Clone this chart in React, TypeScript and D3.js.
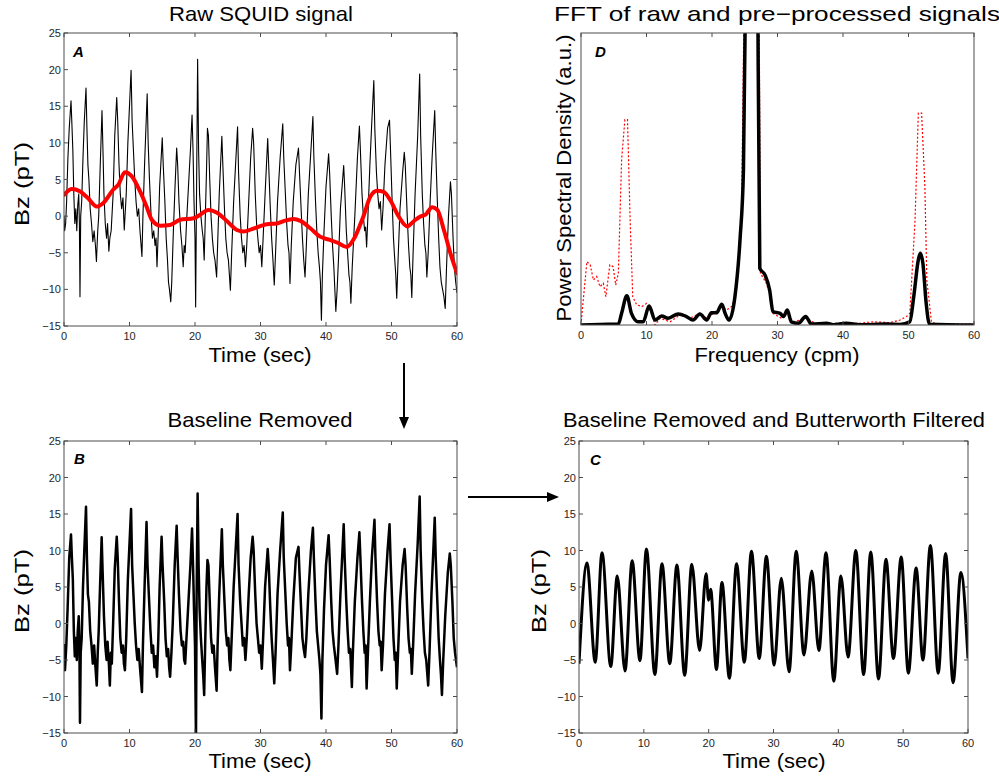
import React from 'react';
import * as d3 from 'd3';

type P = [number, number];

const timeTicks = [0, 10, 20, 30, 40, 50, 60];
const bzTicks = [-15, -10, -5, 0, 5, 10, 15, 20, 25];
const freqTicks = [0, 10, 20, 30, 40, 50, 60];

const rawSignal: P[] = [[0,0],[0.1,-2],[0.25,-1],[0.4,2],[0.6,8],[0.8,12],[1.07,15.75],[1.2,12.7],[1.35,9],[1.5,3],[1.65,-1],[1.8,1],[1.95,-2],[2.1,1.5],[2.25,3],[2.35,-1],[2.44,-11],[2.55,0],[2.7,2],[2.9,8],[3.1,13],[3.36,17.5],[3.5,12],[3.65,7],[3.8,5],[4.0,1],[4.2,-1],[4.4,-3.5],[4.6,-2],[4.8,-4],[4.95,-6.2],[5.15,-2],[5.3,0],[5.5,6],[5.8,14.4],[5.95,9],[6.1,3],[6.3,-1],[6.5,-3],[6.65,-1],[6.85,-4.8],[7.0,-3],[7.2,-2],[7.5,3],[7.75,11],[8.05,16.2],[8.2,13],[8.4,7],[8.6,3],[8.8,1],[9.0,2.5],[9.2,-1.9],[9.5,3],[9.75,10],[10.24,19.9],[10.4,13],[10.6,9],[10.8,5],[11.0,2],[11.2,0],[11.4,1],[11.6,-2],[11.9,-5.5],[12.05,0],[12.3,7],[12.7,16.7],[12.85,10],[13.05,5],[13.3,0],[13.5,-3],[13.7,-2],[13.9,-4],[14.05,-3],[14.2,-6.9],[14.4,-2],[14.6,4],[15.0,10.7],[15.15,7],[15.4,2],[15.6,-3],[15.8,-6],[15.95,-9],[16.1,-10],[16.3,-11.7],[16.45,-9],[16.7,-2],[16.95,4],[17.2,9.3],[17.35,7],[17.55,2],[17.8,-2],[18.0,-4],[18.2,-6.9],[18.35,-4],[18.5,-5],[18.7,-1],[19.0,4],[19.3,9],[19.55,13.8],[19.7,9],[19.85,2],[20.0,-3],[20.1,-12.4],[20.25,5],[20.4,21.4],[20.55,9],[20.7,3],[20.9,0],[21.1,-1.9],[21.25,-3],[21.4,-6],[21.55,-1],[21.75,6],[21.9,12.0],[22.05,11],[22.25,5],[22.45,0],[22.65,-3],[22.85,-5],[23.05,-6],[23.3,-8.3],[23.45,-4],[23.7,3],[24.1,10.9],[24.25,7],[24.5,1],[24.7,-3],[24.9,-5],[25.1,-6],[25.25,-8],[25.4,-10.1],[25.6,-5],[25.9,2],[26.5,12.2],[26.65,6],[26.9,0],[27.1,-3],[27.3,-5],[27.5,-4],[27.7,-6.9],[27.9,-4],[28.2,2],[28.5,8],[28.8,12.0],[28.95,10],[29.2,3],[29.4,-1],[29.6,-3],[29.8,-5],[30.0,-4],[30.2,-6.9],[30.4,-3],[30.7,3],[31.1,10.6],[31.25,7],[31.5,1],[31.7,-3],[31.9,-6],[32.1,-9.4],[32.3,-5],[32.6,2],[33.0,8],[33.4,12.6],[33.55,8],[33.8,3],[34.0,-1],[34.2,-4],[34.35,-5],[34.5,-9.2],[34.7,-4],[35.0,2],[35.4,7],[35.8,9.3],[35.95,6],[36.2,1],[36.4,-3],[36.6,-6],[36.8,-8.3],[37.0,-4],[37.3,3],[37.7,9],[38.0,13.6],[38.15,8],[38.4,2],[38.6,-2],[38.8,-5],[39.0,-7],[39.15,-9],[39.3,-14.2],[39.45,-8],[39.7,-2],[40.0,4],[40.4,8.5],[40.55,6],[40.8,0],[41.0,-4],[41.2,-7],[41.35,-10],[41.5,-13.0],[41.7,-10],[41.9,-6],[42.2,1],[42.7,6.9],[42.85,4],[43.1,-2],[43.3,-5],[43.5,-8],[43.65,-9],[43.8,-11.9],[44.0,-7],[44.4,0],[44.8,8],[45.1,12.3],[45.25,9],[45.5,3],[45.7,0],[45.9,-2],[46.05,-1.5],[46.2,-4.2],[46.4,0],[46.7,7],[47.0,13],[47.3,18.5],[47.45,12],[47.7,6],[47.9,3],[48.1,1],[48.3,2],[48.5,-1.9],[48.7,1],[49.0,7],[49.4,12],[49.7,13.1],[49.85,9],[50.1,2],[50.3,-3],[50.5,-6],[50.65,-8],[50.8,-11.2],[51.0,-6],[51.3,1],[51.7,6],[51.95,8.7],[52.1,7],[52.4,0],[52.6,-4],[52.8,-7],[52.95,-8],[53.1,-11.1],[53.3,-5],[53.6,3],[54.0,11],[54.3,19.4],[54.45,11],[54.7,3],[54.9,-1],[55.1,-4],[55.25,-5],[55.4,-8.3],[55.6,-5],[55.9,2],[56.2,8],[56.6,14.4],[56.75,9],[57.0,2],[57.2,-3],[57.4,-7],[57.6,-9],[57.8,-10],[58.0,-11],[58.2,-12.6],[58.4,-7],[58.7,0],[59.0,4.7],[59.15,3],[59.4,-3],[59.6,-7],[59.8,-9],[60,-10.5]];

const baseline: P[] = [[0,2.9],[1.2,3.7],[2.4,3.4],[3.6,2.5],[5.0,1.3],[6.0,1.8],[7.5,3.6],[8.3,4.3],[9.3,6.0],[10.3,5.5],[11.6,3.4],[12.6,1.3],[13.4,-0.5],[14.7,-1.3],[16.2,-1.2],[17.7,-0.5],[19.8,-0.3],[20.8,0.2],[22.05,0.85],[23.3,0.5],[24.9,-0.7],[26.4,-1.9],[27.4,-2.1],[28.9,-1.7],[31.0,-1.1],[32.5,-1.0],[33.5,-0.7],[35.0,-0.4],[36.1,-0.65],[37.6,-1.65],[39.1,-2.8],[40.6,-3.25],[41.7,-3.6],[43.2,-4.2],[44.2,-3.2],[45.7,-0.05],[46.8,2.7],[47.8,3.45],[48.8,3.3],[49.8,2.2],[51.1,-0.05],[52.4,-1.4],[53.4,-0.7],[54.4,-0.05],[55.2,0.2],[56.2,1.2],[57.0,0.85],[58.0,-1.9],[59.0,-5.1],[60,-7.8]];

const baselineRemoved: P[] = [[0,-2.8],[0.15,-6.4],[0.35,-3],[0.55,2],[0.8,9],[1.07,12.2],[1.2,9.1],[1.35,6],[1.5,-1],[1.65,-4.5],[1.8,-2],[1.95,-5],[2.1,-1],[2.25,1],[2.35,-3],[2.44,-13.6],[2.55,-4],[2.7,-2],[2.9,5],[3.1,10],[3.36,16],[3.5,9],[3.65,4],[3.8,3],[4.0,-1],[4.2,-3],[4.4,-5.5],[4.6,-3],[4.8,-6],[5.0,-8.5],[5.15,-4],[5.3,-1],[5.5,5],[5.75,11.8],[5.9,7],[6.1,1],[6.3,-3],[6.5,-5],[6.65,-2.5],[6.85,-5.5],[7.0,-8.5],[7.15,-4],[7.3,-5.5],[7.5,0],[7.75,7.5],[8.05,11.9],[8.2,9],[8.4,3],[8.6,-2],[8.8,-4],[9.0,-3],[9.15,-5.5],[9.3,-6.4],[9.5,-2],[9.75,6],[10.24,15.7],[10.4,8],[10.6,4],[10.8,0],[11.0,-3],[11.2,-5],[11.4,-3.5],[11.6,-6],[11.9,-9.4],[12.05,-3],[12.3,5],[12.6,13.9],[12.75,8],[12.95,4],[13.2,-1],[13.4,-4],[13.6,-3],[13.8,-6],[14.0,-4.5],[14.2,-7.3],[14.4,-2],[14.6,5],[14.9,11.9],[15.05,8],[15.3,3],[15.5,-2],[15.7,-4.5],[15.9,-3.5],[16.05,-6],[16.2,-7.3],[16.4,-4],[16.6,0],[16.9,8],[17.2,13.4],[17.35,9],[17.55,4],[17.8,-1],[18.0,-3],[18.2,-2.5],[18.35,-5],[18.5,-5.5],[18.7,-2],[19.0,3],[19.3,8],[19.55,13.0],[19.7,8],[19.85,2],[20.0,-3],[20.15,-16],[20.25,4],[20.4,17.8],[20.55,8],[20.7,2],[20.9,-2],[21.1,-5],[21.25,-7],[21.4,-9.8],[21.55,-3],[21.75,5],[21.9,8.7],[22.05,8],[22.25,3],[22.45,-2],[22.65,-4],[22.85,-3],[23.05,-6],[23.3,-9.2],[23.45,-3],[23.7,4],[24.1,12.9],[24.25,8],[24.5,3],[24.7,-1],[24.9,-3],[25.1,-2],[25.25,-5],[25.4,-6.4],[25.6,-2],[25.9,5],[26.5,15.0],[26.65,8],[26.9,3],[27.1,0],[27.3,-3],[27.5,-2],[27.7,-5.0],[27.9,-2],[28.2,4],[28.5,9],[28.8,11.9],[28.95,10],[29.2,4],[29.4,0],[29.6,-2],[29.8,-4],[30.0,-3],[30.2,-6.2],[30.4,-2],[30.7,5],[31.1,10.2],[31.25,8],[31.5,2],[31.7,-2],[31.9,-5],[32.1,-8.2],[32.3,-4],[32.6,4],[33.0,10],[33.4,15.2],[33.55,9],[33.8,4],[34.0,0],[34.2,-3],[34.35,-2],[34.5,-6.4],[34.7,-3],[35.0,3],[35.4,9],[35.8,10.5],[35.95,7],[36.2,2],[36.4,-2],[36.6,-3.5],[36.8,-4.6],[37.0,-2],[37.3,4],[37.7,10],[38.0,13.1],[38.15,9],[38.4,3],[38.6,-1],[38.8,-3],[39.0,-5],[39.15,-7],[39.3,-13.0],[39.45,-5],[39.7,2],[40.0,8],[40.4,12.1],[40.55,9],[40.8,3],[41.0,-1],[41.2,-3],[41.4,-4.5],[41.7,-6.9],[41.9,-3],[42.2,4],[42.7,13.6],[42.85,9],[43.1,3],[43.3,-1],[43.5,-4],[43.7,-3.5],[43.95,-8.7],[44.1,-4],[44.4,3],[44.8,9],[45.1,12.5],[45.25,9],[45.5,3],[45.7,-1],[45.9,-4],[46.05,-3],[46.2,-8.9],[46.4,-4],[46.7,3],[47.0,9],[47.4,14.2],[47.55,9],[47.8,3],[48.0,-1],[48.2,-3],[48.35,-2.5],[48.5,-6.4],[48.7,-3],[49.0,4],[49.4,10],[49.7,13.6],[49.85,9],[50.1,3],[50.3,-2],[50.5,-5],[50.65,-4],[50.8,-8.9],[51.0,-4],[51.3,3],[51.7,8],[52.0,10.2],[52.15,8],[52.4,2],[52.6,-2],[52.8,-4],[52.95,-3.5],[53.1,-6.9],[53.3,-3],[53.6,4],[54.0,11],[54.3,17.4],[54.45,10],[54.7,3],[54.9,-1],[55.1,-4],[55.3,-5],[55.6,-8.5],[55.8,-4],[56.1,4],[56.6,14.5],[56.75,9],[57.0,3],[57.2,-2],[57.4,-5],[57.55,-7],[57.7,-9.8],[57.9,-5],[58.2,1],[58.6,7],[58.9,9.6],[59.05,8],[59.3,3],[59.5,-2],[59.7,-4],[60,-6.0]];

const filtered: P[] = [[0,-5.5],[1.23,8.3],[2.5,-5.3],[3.55,9.7],[4.9,-5.9],[5.9,6.5],[7.1,-6.5],[8.2,8.6],[9.4,-5.1],[10.4,10.2],[11.7,-7.0],[12.8,8.2],[14.0,-5.5],[15.1,8.0],[16.3,-7.1],[17.4,8.1],[18.6,-3.7],[19.6,6.8],[20.0,3.2],[20.3,4.7],[21.2,-6.3],[22.05,5.6],[23.2,-7.5],[24.3,8.2],[25.5,-5.3],[26.6,9.9],[27.8,-4.8],[28.9,9.2],[30.1,-5.7],[31.2,6.2],[32.4,-6.6],[33.5,9.9],[34.7,-4.3],[35.9,7.2],[37.0,-3.7],[38.1,9.7],[39.3,-7.9],[40.4,6.5],[41.5,-4.6],[42.7,10.0],[43.9,-7.0],[45.0,9.8],[46.2,-7.6],[47.35,8.8],[48.5,-4.8],[49.7,9.1],[50.8,-6.8],[52.0,7.6],[53.05,-5.0],[54.2,10.7],[55.4,-6.8],[56.55,9.6],[57.7,-8.1],[58.9,7.0],[60,-4.8]];

const psdProcessed: P[] = [[0,0],[2.9,0.2],[5.7,0.3],[6.2,4],[7.0,10],[7.7,4],[8.75,1.1],[9.5,1.1],[10.4,6.5],[11.3,1.7],[12.3,3.1],[13.3,2.3],[14.85,3.8],[16.1,2.9],[17.1,1.7],[18.15,3.8],[19.2,1.7],[19.9,4.2],[20.7,4.2],[21.5,7.1],[22.0,4],[22.6,1.7],[23.5,9.7],[24.3,30],[24.8,53],[25.1,110],[25.6,320],[26.1,420],[26.6,320],[27.0,110],[27.3,19.4],[28.1,17.1],[28.8,12],[29.3,4.6],[30.4,4],[30.9,2.9],[31.5,5.1],[32.1,1.1],[33.2,0.6],[34.3,2.9],[35.2,0.3],[37.5,0.6],[38.5,0.1],[40.5,0.6],[42.6,0.1],[46.6,0.3],[48.7,0.2],[50.2,1.1],[50.8,9.7],[51.5,22.3],[51.8,24.6],[52.2,21.1],[52.7,7.4],[53.2,0.3],[60,0]];

const psdRaw: P[] = [[0,0],[0.25,6.3],[0.9,21.7],[1.4,20.6],[1.9,15.4],[2.4,16.6],[2.9,13.1],[3.4,14.3],[3.8,9.7],[4.4,20.6],[4.9,20],[5.3,13.7],[5.7,17.7],[6.2,56.6],[6.7,70.3],[7.1,70.3],[7.5,36],[7.9,9.7],[8.5,6.9],[9.3,6.3],[10.0,7.4],[10.8,4],[11.3,0],[12.05,2.3],[13.6,1.1],[15.1,3.4],[16.6,2.3],[18.15,4],[19.2,2.3],[20.2,4],[21.5,6.3],[22.2,5.1],[23.0,6.3],[23.7,10.9],[24.5,36],[24.9,110],[25.5,330],[26.1,440],[26.7,330],[27.2,110],[27.4,17.7],[28.3,14.3],[28.9,9.7],[29.3,4],[30.6,2.3],[31.4,4],[32.4,1.1],[34.4,2.3],[36,0.3],[39.5,0.6],[42.6,0.6],[44.6,1.1],[47.1,0.8],[48.7,1.7],[49.7,2.9],[50.2,4],[51.0,36],[51.5,72.6],[52.0,72.6],[52.5,47.4],[52.8,15.4],[53.5,1.1],[54.3,0.3],[60,0.3]];

const FONT = '"Liberation Sans", Arial, Helvetica, sans-serif';

interface Box { x: number; y: number; w: number; h: number; }

function Frame({ box, xs, ys, xTicks, yTicks, id }: { box: Box; xs: d3.ScaleLinear<number, number>; ys: d3.ScaleLinear<number, number> | null; xTicks: number[]; yTicks: number[]; id: string; }) {
  const tl = 4;
  return (
    <g>
      <rect x={box.x} y={box.y} width={box.w} height={box.h} fill="none" stroke="#4d4d4d" strokeWidth={1} />
      {xTicks.map((t) => (
        <g key={id + 'x' + t}>
          <line x1={xs(t)} x2={xs(t)} y1={box.y + box.h} y2={box.y + box.h - tl} stroke="#4d4d4d" />
          <line x1={xs(t)} x2={xs(t)} y1={box.y} y2={box.y + tl} stroke="#4d4d4d" />
          <text x={xs(t)} y={box.y + box.h + 14} textAnchor="middle" fontSize={11} fill="#262626" fontFamily={FONT}>{t}</text>
        </g>
      ))}
      {ys && yTicks.map((t) => (
        <g key={id + 'y' + t}>
          <line x1={box.x} x2={box.x + tl} y1={ys(t)} y2={ys(t)} stroke="#4d4d4d" />
          <line x1={box.x + box.w} x2={box.x + box.w - tl} y1={ys(t)} y2={ys(t)} stroke="#4d4d4d" />
          <text x={box.x - 3} y={ys(t) + 4} textAnchor="end" fontSize={11} fill="#262626" fontFamily={FONT}>{t < 0 ? '\u2212' + Math.abs(t) : t}</text>
        </g>
      ))}
    </g>
  );
}

export default function App() {
  const boxA: Box = { x: 64, y: 33, w: 393, h: 293 };
  const boxD: Box = { x: 581, y: 33, w: 393, h: 292 };
  const boxB: Box = { x: 64, y: 441, w: 393, h: 292 };
  const boxC: Box = { x: 579, y: 441, w: 389, h: 292 };

  const xA = d3.scaleLinear().domain([0, 60]).range([boxA.x, boxA.x + boxA.w]);
  const yA = d3.scaleLinear().domain([-15, 25]).range([boxA.y + boxA.h, boxA.y]);
  const xB = d3.scaleLinear().domain([0, 60]).range([boxB.x, boxB.x + boxB.w]);
  const yB = d3.scaleLinear().domain([-15, 25]).range([boxB.y + boxB.h, boxB.y]);
  const xC = d3.scaleLinear().domain([0, 60]).range([boxC.x, boxC.x + boxC.w]);
  const yC = d3.scaleLinear().domain([-15, 25]).range([boxC.y + boxC.h, boxC.y]);
  const xD = d3.scaleLinear().domain([0, 60]).range([boxD.x, boxD.x + boxD.w]);
  const yD = d3.scaleLinear().domain([0, 100]).range([boxD.y + boxD.h, boxD.y]);

  const lineA = d3.line<P>().x((d) => xA(d[0])).y((d) => yA(d[1]));
  const lineBase = d3.line<P>().x((d) => xA(d[0])).y((d) => yA(d[1])).curve(d3.curveMonotoneX);
  const lineB = d3.line<P>().x((d) => xB(d[0])).y((d) => yB(d[1]));
  const lineC = d3.line<P>().x((d) => xC(d[0])).y((d) => yC(d[1])).curve(d3.curveMonotoneX);
  const lineDp = d3.line<P>().x((d) => xD(d[0])).y((d) => yD(d[1])).curve(d3.curveMonotoneX);
  const lineDr = d3.line<P>().x((d) => xD(d[0])).y((d) => yD(d[1]));

  const FS = 21;
  const txt = (x: number, y: number, s: string, len?: number) => (
    <text x={x} y={y} textAnchor="middle" fontSize={FS} fill="#000" fontFamily={FONT}
      {...(len ? { textLength: len, lengthAdjust: 'spacingAndGlyphs' } : {})}>{s}</text>
  );
  const ylab = (x: number, y: number, s: string, len?: number) => (
    <text transform={`translate(${x},${y}) rotate(-90)`} textAnchor="middle" fontSize={FS} fill="#000" fontFamily={FONT}
      {...(len ? { textLength: len, lengthAdjust: 'spacingAndGlyphs' } : {})}>{s}</text>
  );
  const letter = (x: number, y: number, s: string) => (
    <text x={x} y={y} fontSize={15} fontWeight="bold" fontStyle="italic" fill="#000" fontFamily={FONT}>{s}</text>
  );

  return (
    <svg width={999} height={780} style={{ display: 'block', position: 'absolute', left: 0, top: 0, background: '#fff' }}>
      <defs>
        {[['cA', boxA], ['cB', boxB], ['cC', boxC], ['cD', boxD]].map(([id, b]: any) => (
          <clipPath id={id} key={id}><rect x={b.x} y={b.y} width={b.w} height={b.h} /></clipPath>
        ))}
      </defs>
      <rect x={0} y={0} width={999} height={780} fill="#fff" />

      {/* Panel A */}
      {txt(261, 21, 'Raw SQUID signal', 184)}
      <g clipPath="url(#cA)">
        <path d={lineA(rawSignal) || ''} fill="none" stroke="#000" strokeWidth={1.1} strokeLinejoin="round" />
        <path d={lineBase(baseline) || ''} fill="none" stroke="#ff0000" strokeWidth={4} strokeLinecap="round" />
      </g>
      <Frame box={boxA} xs={xA} ys={yA} xTicks={timeTicks} yTicks={bzTicks} id="A" />
      {letter(73, 57, 'A')}
      {txt(260, 362, 'Time (sec)', 103)}
      {ylab(29, 184, 'Bz (pT)', 84)}

      {/* Panel D */}
      {txt(777, 21, 'FFT of raw and pre\u2212processed signals', 446)}
      <g clipPath="url(#cD)">
        <path d={lineDr(psdRaw) || ''} fill="none" stroke="#ff0000" strokeWidth={1.2} strokeDasharray="2,2" />
        <path d={lineDp(psdProcessed) || ''} fill="none" stroke="#000" strokeWidth={3.5} strokeLinejoin="round" />
      </g>
      <Frame box={boxD} xs={xD} ys={null} xTicks={freqTicks} yTicks={[]} id="D" />
      {letter(595, 57, 'D')}
      {txt(777, 362, 'Frequency (cpm)', 165)}
      {ylab(571, 178, 'Power Spectral Density (a.u.)', 287)}

      {/* Panel B */}
      {txt(260, 427, 'Baseline Removed', 185)}
      <g clipPath="url(#cB)">
        <path d={lineB(baselineRemoved) || ''} fill="none" stroke="#000" strokeWidth={2.5} strokeLinejoin="round" />
      </g>
      <Frame box={boxB} xs={xB} ys={yB} xTicks={timeTicks} yTicks={bzTicks} id="B" />
      {letter(74, 464, 'B')}
      {txt(260, 768, 'Time (sec)', 103)}
      {ylab(29, 591, 'Bz (pT)', 84)}

      {/* Panel C */}
      {txt(774, 427, 'Baseline Removed and Butterworth Filtered', 422)}
      <g clipPath="url(#cC)">
        <path d={lineC(filtered) || ''} fill="none" stroke="#000" strokeWidth={3} strokeLinejoin="round" />
      </g>
      <Frame box={boxC} xs={xC} ys={yC} xTicks={timeTicks} yTicks={bzTicks} id="C" />
      {letter(590, 465, 'C')}
      {txt(774, 768, 'Time (sec)', 103)}
      {ylab(546, 591, 'Bz (pT)', 84)}

      {/* Arrows */}
      <line x1={404} y1={363} x2={404} y2={418} stroke="#000" strokeWidth={2} />
      <path d="M399,417 L409,417 L404,429 Z" fill="#000" />
      <line x1={468} y1={497} x2={548} y2={497} stroke="#000" strokeWidth={2} />
      <path d="M547,492 L547,502 L559,497 Z" fill="#000" />
    </svg>
  );
}
